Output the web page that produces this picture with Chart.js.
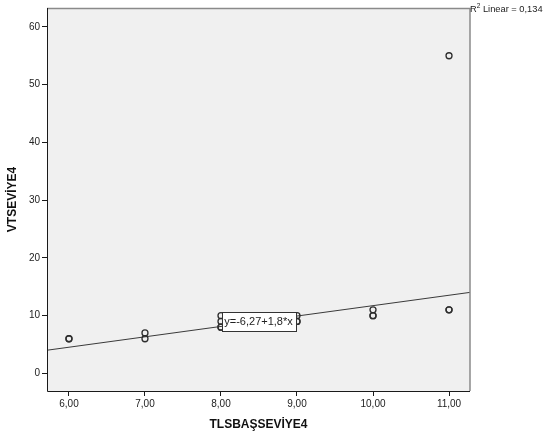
<!DOCTYPE html>
<html>
<head>
<meta charset="utf-8">
<script src="https://cdn.jsdelivr.net/npm/chart.js@4/dist/chart.umd.min.js"></script>
<style>
  html, body { margin: 0; padding: 0; background: #ffffff; }
  #wrap { position: relative; width: 547px; height: 441px; }
</style>
</head>
<body>
<div id="wrap"><canvas id="chart"></canvas></div>
<script>
// Observations: TLSBAŞSEVİYE4 (x) against VTSEVİYE4 (y); repeated pairs overlap
const xValues = [6, 6, 7, 7, 8, 8, 8, 8, 9, 9, 9, 10, 10, 10, 11, 11, 11];
const yValues = [6, 6, 6, 7, 8, 8, 9, 10, 9, 9, 10, 10, 10, 11, 11, 11, 55];

// Axis ticks and ranges
const xTicks = [6, 7, 8, 9, 10, 11];
const yTicks = [0, 10, 20, 30, 40, 50, 60];
const xRange = [5.711, 11.276];
const yRange = [-3.05, 63.27];

// Linear fit y = intercept + slope * x
const fitIntercept = -6.27;
const fitSlope = 1.8;
const fitLabel = 'y=-6,27+1,8*x';
const r2Value = '0,134';

const xTitle = 'TLSBAŞSEVİYE4';
const yTitle = 'VTSEVİYE4';

const FONT = '"Liberation Sans", Arial, sans-serif';
const fitY = x => fitIntercept + fitSlope * x;
const fmtX = v => v.toFixed(2).replace('.', ',');

const points = xValues.map((x, i) => ({ x: x, y: yValues[i] }));
const fitLine = [
  { x: xRange[0], y: fitY(xRange[0]) },
  { x: xRange[1], y: fitY(xRange[1]) }
];

// Grey plot panel behind the data
const panelPlugin = {
  id: 'panel',
  beforeDatasetsDraw(chart) {
    const { ctx, chartArea: a } = chart;
    ctx.save();
    ctx.fillStyle = '#f0f0f0';
    ctx.fillRect(a.left, a.top, a.right - a.left, a.bottom - a.top);
    ctx.restore();
  },
  afterDraw(chart) {
    const { ctx, chartArea: a } = chart;
    ctx.save();
    // top and right frame
    ctx.strokeStyle = '#8a8a8a';
    ctx.lineWidth = 1.5;
    ctx.beginPath();
    ctx.moveTo(a.left, a.top + 0.5);
    ctx.lineTo(a.right, a.top + 0.5);
    ctx.lineTo(a.right, a.bottom);
    ctx.stroke();
    // left and bottom axis lines
    ctx.strokeStyle = '#1a1a1a';
    ctx.lineWidth = 1;
    ctx.beginPath();
    ctx.moveTo(a.left + 0.5, a.top);
    ctx.lineTo(a.left + 0.5, a.bottom + 0.5);
    ctx.lineTo(a.right, a.bottom + 0.5);
    ctx.stroke();
    ctx.restore();
  }
};

// Equation box on the fit line and the R² note beside the panel
const annotatePlugin = {
  id: 'annotate',
  afterDraw(chart) {
    const { ctx, chartArea: a, scales } = chart;
    const xs = scales.x, ys = scales.y;
    ctx.save();

    const xMid = (xRange[0] + xRange[1]) / 2;
    const cx = xs.getPixelForValue(xMid);
    const cy = ys.getPixelForValue(fitY(xMid));
    ctx.font = '11px ' + FONT;
    const tw = ctx.measureText(fitLabel).width;
    const bw = Math.round(tw + 6), bh = 19;
    const bx = Math.round(cx - bw / 2) + 0.5, by = Math.round(cy - bh / 2) + 0.5;
    ctx.fillStyle = '#ffffff';
    ctx.fillRect(bx, by, bw, bh);
    ctx.strokeStyle = '#333333';
    ctx.lineWidth = 1;
    ctx.strokeRect(bx, by, bw, bh);
    ctx.fillStyle = '#222222';
    ctx.textAlign = 'center';
    ctx.textBaseline = 'middle';
    ctx.fillText(fitLabel, cx, cy + 0.5);

    // R² Linear
    let tx = a.right;
    const base = 12;
    ctx.textAlign = 'left';
    ctx.textBaseline = 'alphabetic';
    ctx.font = '9.3px ' + FONT;
    ctx.fillText('R', tx, base);
    tx += ctx.measureText('R').width;
    ctx.font = '6.5px ' + FONT;
    ctx.fillText('2', tx, base - 4);
    tx += ctx.measureText('2').width;
    ctx.font = '9.3px ' + FONT;
    ctx.fillText(' Linear = ' + r2Value, tx, base);
    ctx.restore();
  }
};

new Chart(document.getElementById('chart'), {
  type: 'scatter',
  data: {
    datasets: [
      {
        type: 'line',
        data: fitLine,
        borderColor: '#3a3a3a',
        borderWidth: 1,
        pointRadius: 0,
        fill: false,
        order: 2
      },
      {
        data: points,
        pointStyle: 'circle',
        pointRadius: 3,
        borderWidth: 1.3,
        borderColor: '#2e2e2e',
        backgroundColor: 'rgba(0,0,0,0)',
        order: 1
      }
    ]
  },
  options: {
    responsive: true,
    maintainAspectRatio: false,
    animation: false,
    layout: { padding: { top: 6, right: 77, left: 0, bottom: 0 } },
    plugins: {
      legend: { display: false },
      tooltip: { enabled: false }
    },
    scales: {
      x: {
        type: 'linear',
        min: xRange[0],
        max: xRange[1],
        afterBuildTicks(scale) { scale.ticks = xTicks.map(v => ({ value: v })); },
        afterFit(scale) { scale.height = 50; },
        border: { display: false },
        grid: { drawOnChartArea: false, drawTicks: true, tickLength: 5, tickColor: '#1a1a1a', lineWidth: 1 },
        ticks: {
          padding: 2,
          color: '#222222',
          font: { family: FONT, size: 10 },
          maxRotation: 0,
          callback: v => fmtX(v)
        },
        title: {
          display: true,
          text: xTitle,
          color: '#111111',
          font: { family: FONT, size: 12, weight: 'bold' },
          padding: { top: 0, bottom: 9 }
        }
      },
      y: {
        type: 'linear',
        min: yRange[0],
        max: yRange[1],
        afterBuildTicks(scale) { scale.ticks = yTicks.map(v => ({ value: v })); },
        afterFit(scale) { scale.width = 47; },
        border: { display: false },
        grid: { drawOnChartArea: false, drawTicks: true, tickLength: 5, tickColor: '#1a1a1a', lineWidth: 1 },
        ticks: {
          padding: 2,
          color: '#222222',
          font: { family: FONT, size: 10 },
          callback: v => String(v)
        },
        title: {
          display: true,
          text: yTitle,
          color: '#111111',
          font: { family: FONT, size: 12, weight: 'bold' },
          padding: { top: 5, bottom: 0 }
        }
      }
    }
  },
  plugins: [panelPlugin, annotatePlugin]
});
</script>
</body>
</html>
